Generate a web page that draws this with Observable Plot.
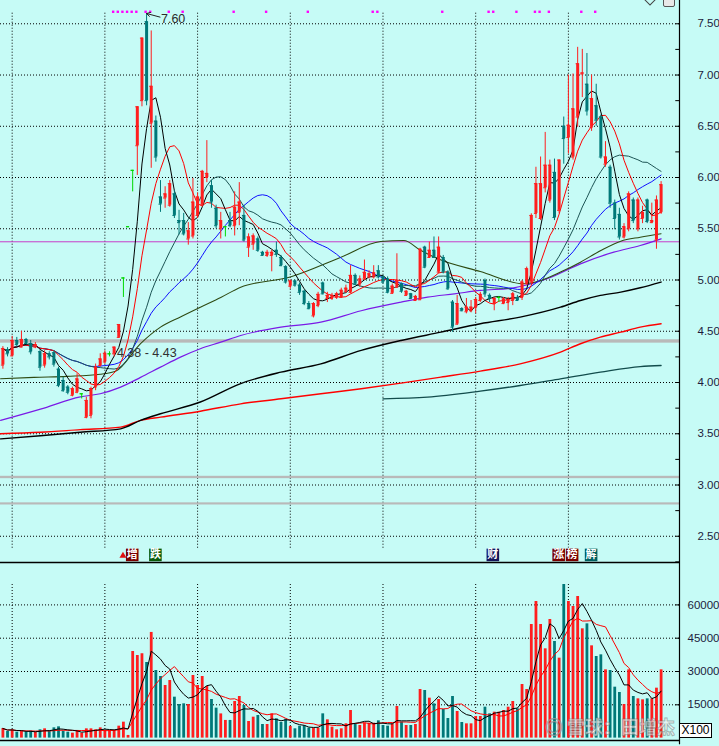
<!DOCTYPE html>
<html><head><meta charset="utf-8">
<script src="https://cdn.jsdelivr.net/npm/d3@7"></script>
<script src="https://cdn.jsdelivr.net/npm/@observablehq/plot@0.6"></script>
<style>
html,body{margin:0;padding:0;background:#c6fbf6;}
#wrap{position:relative;width:719px;height:746px;overflow:hidden;background:#c6fbf6;font-family:"Liberation Sans",Arial,sans-serif;}
#wrap svg{position:absolute;left:0;overflow:visible;}
#x100{position:absolute;left:679px;top:723px;width:31px;height:13px;border:1px solid #000;background:#fff;font:12px "Liberation Sans",Arial,sans-serif;line-height:13px;text-align:center;color:#000;}
#wm{position:absolute;left:545px;top:713px;font:bold 18px "Noto Sans CJK SC",sans-serif;color:rgba(255,255,255,0.6);-webkit-text-stroke:1px rgba(110,110,110,0.5);white-space:nowrap;}
#ic1{position:absolute;left:646px;top:-4px;width:6px;height:6px;border:1px solid #444;transform:rotate(45deg);background:transparent;}
#ic2{position:absolute;left:663px;top:-3px;width:10px;height:8px;border:1px solid #555;border-radius:2px;background:#e8e8e8;}
</style></head><body><div id="wrap"><div id="wm">◎ 雪球：田增杰</div><div id="x100">X100</div><div id="ic1"></div><div id="ic2"></div></div>
<script>
// ---- candle data (index 0..142) ----
const opens = [4.17,4.32,4.26,4.41,4.345,4.42,4.38,4.345,4.30,4.17,4.28,4.29,4.13,4.02,3.955,3.875,3.905,3.89,3.66,3.68,
3.955,4.166,4.20,4.28,4.28,4.44,5.02,5.52,6.07,6.31,6.75,7.52,6.53,6.55,5.81,5.80,5.73,5.84,5.58,5.58,
5.40,5.43,5.63,5.73,6.00,5.92,5.70,5.50,5.52,5.58,5.53,5.66,5.63,5.32,5.35,5.40,5.27,5.24,5.24,5.29,
5.22,5.13,4.94,4.99,4.95,4.89,4.77,4.65,4.75,4.97,4.82,4.82,4.83,4.83,4.89,4.88,5.045,4.96,5.01,5.03,
5.03,5.09,5.03,5.01,4.87,4.93,4.963,4.85,4.865,4.80,4.807,5.32,5.22,5.29,5.077,5.22,5.077,4.784,4.57,4.72,
4.69,4.70,4.73,4.80,4.996,4.85,4.77,4.83,4.77,4.78,4.80,4.83,4.83,4.963,4.98,5.65,5.60,5.90,5.78,6.05,
5.68,6.50,6.39,6.20,6.59,7.01,6.91,6.49,6.70,6.59,6.13,6.10,5.75,5.64,5.42,5.50,5.78,5.50,5.60,5.78,
5.56,5.39,5.66];
const highs = [4.35,4.34,4.45,4.44,4.50,4.43,4.41,4.39,4.31,4.31,4.30,4.31,4.15,4.05,3.97,3.955,4.085,3.89,3.856,3.955,
4.18,4.28,4.31,4.30,4.345,4.566,5.02,5.52,6.07,6.69,7.36,7.60,7.43,6.60,5.97,5.91,5.97,5.87,5.68,5.65,
5.56,5.99,5.85,6.07,6.36,5.97,5.73,5.66,5.52,5.66,5.86,5.95,5.73,5.45,5.45,5.42,5.28,5.29,5.29,5.37,
5.24,5.14,5.00,5.00,4.97,4.90,4.79,4.78,4.88,4.98,4.88,4.87,4.88,4.92,4.95,5.14,5.06,5.04,5.195,5.09,
5.14,5.14,5.04,5.03,4.96,5.256,4.97,4.90,4.87,4.85,5.31,5.33,5.37,5.42,5.42,5.24,5.09,4.80,4.85,4.73,
4.82,4.80,4.83,4.88,5.01,4.865,4.83,4.84,4.83,4.83,4.88,4.85,4.996,5.126,5.646,6.10,6.20,6.44,6.17,6.18,
6.17,6.59,7.00,7.01,7.27,7.25,7.21,7.00,6.91,6.61,6.35,6.12,5.78,5.70,5.55,5.86,5.80,5.80,5.72,5.79,
5.75,5.82,5.96];
const lows = [4.13,4.25,4.25,4.345,4.34,4.37,4.27,4.33,4.11,4.14,4.22,4.15,3.95,3.905,3.88,3.86,3.89,3.84,3.646,3.646,
3.92,4.15,4.18,4.25,4.25,4.43,4.83,5.52,5.86,6.02,6.69,6.70,6.09,6.15,5.66,5.70,5.71,5.60,5.44,5.43,
5.34,5.40,5.60,5.71,5.95,5.70,5.50,5.40,5.42,5.51,5.43,5.53,5.37,5.22,5.29,5.27,5.23,5.22,5.08,5.22,
5.13,4.96,4.91,4.93,4.85,4.75,4.71,4.63,4.73,4.855,4.78,4.80,4.81,4.82,4.87,4.865,4.95,4.93,4.995,5.01,
5.01,5.01,4.96,4.865,4.86,4.92,4.87,4.84,4.81,4.79,4.80,5.11,5.21,5.21,5.06,5.06,4.90,4.49,4.556,4.69,
4.67,4.68,4.67,4.78,4.83,4.78,4.70,4.78,4.76,4.70,4.75,4.79,4.80,4.95,4.963,5.60,5.58,5.85,5.75,5.58,
5.65,6.13,6.23,6.17,6.49,6.78,6.60,6.45,6.50,6.18,6.10,5.70,5.49,5.39,5.40,5.47,5.55,5.47,5.55,5.55,
5.55,5.30,5.64];
const closes = [4.33,4.28,4.41,4.37,4.42,4.38,4.30,4.37,4.15,4.28,4.25,4.18,3.97,3.92,3.905,3.94,4.035,3.89,3.825,3.94,
4.15,4.23,4.285,4.28,4.345,4.566,5.02,5.52,6.07,6.69,7.36,6.75,6.89,6.20,5.74,5.84,5.94,5.63,5.56,5.45,
5.48,5.76,5.81,6.06,6.04,5.76,5.53,5.58,5.52,5.53,5.71,5.76,5.39,5.42,5.43,5.29,5.24,5.27,5.27,5.25,
5.14,4.98,4.99,4.95,4.88,4.77,4.72,4.77,4.86,4.865,4.85,4.85,4.865,4.90,4.92,5.045,4.96,5.01,5.075,5.06,
5.07,5.03,4.98,4.88,4.94,4.995,4.89,4.89,4.82,4.84,5.30,5.125,5.29,5.22,5.32,5.077,4.914,4.54,4.77,4.70,
4.735,4.735,4.81,4.86,4.865,4.82,4.82,4.83,4.815,4.81,4.865,4.80,4.98,5.11,5.63,5.94,5.94,6.12,6.12,5.61,
6.17,6.38,6.51,6.67,7.11,7.02,6.65,6.77,6.56,6.20,6.20,5.75,5.60,5.42,5.52,5.84,5.58,5.78,5.66,5.57,
5.58,5.78,5.93];
const volumes = [4325,2970,3725,2670,3120,2670,3120,2670,3725,4175,3120,4620,5075,3120,2670,2220,3120,2220,4175,4175,
3725,4620,3425,3425,3425,5375,7180,1200,39000,37200,38000,34050,47600,30450,27750,23700,25950,18440,15140,15440,
15140,28200,23700,27750,23240,17400,13500,10900,7960,7960,16500,18740,14685,7478,9430,10180,6126,6126,10931,8679,
7027,8529,5225,4176,5375,5526,4475,4475,4475,10931,8228,4925,3724,4176,6426,12432,6426,5674,6727,6727,
6727,7778,5674,5375,6426,14234,7177,5674,5674,6126,21892,21442,17988,15436,17389,12883,8829,18739,11982,7027,
6426,6426,9730,9730,13934,10931,11682,11682,12432,13934,16487,13183,24144,21892,51171,61531,51171,40210,53423,43514,
36006,69189,61531,59279,63784,49219,51471,41562,36757,37508,30751,30450,22943,20541,15135,30751,18739,17688,17237,17688,
17688,22493,30751];

// ---- long moving averages (index, value) ----
const ma60Idx = [-0.5,6.7,13.9,21,24.3,29.7,34,38.3,42.6,47,51.3,62,72.8,81.5,86.5,90.1,94.4,103,112.4,116,120.3,124.6,129,133.3,137.5,142];
const ma60Val = [4.036,4.05,4.06,4.08,4.11,4.38,4.54,4.64,4.735,4.83,4.93,5.03,5.22,5.376,5.386,5.29,5.197,5.083,4.963,4.995,5.077,5.174,5.288,5.379,5.418,5.451];
const ma120Idx = [-0.5,8.1,16.7,21,25.4,29.7,34,38.3,42.6,47,51.3,60,68.6,77.3,85.9,91.6,97.4,103,110.2,117.4,124.6,131.8,137.5,142];
const ma120Val = [3.63,3.74,3.86,3.89,3.955,4.05,4.15,4.248,4.33,4.394,4.459,4.54,4.589,4.70,4.784,4.833,4.865,4.898,4.924,5.012,5.158,5.272,5.337,5.402];
const maLongBlackIdx = [-0.5,8.1,16.7,25.4,29.7,34,42.6,51.3,60,68.6,77.3,85.9,94.5,103,111.6,120.3,124.6,128.9,133.3,137.5,142];
const maLongBlackVal = [3.45,3.48,3.515,3.548,3.63,3.695,3.81,3.99,4.101,4.182,4.313,4.41,4.491,4.573,4.638,4.735,4.80,4.85,4.882,4.924,4.98];
const maLongRedIdx = [-0.5,8.1,16.7,25.4,29.7,34,42.6,51.3,60,68.6,77.3,85.9,94.5,103,111.6,120.3,124.6,128.9,133.3,137.5,142];
const maLongRedVal = [3.50,3.515,3.54,3.565,3.63,3.662,3.72,3.792,3.841,3.89,3.939,3.994,4.052,4.111,4.182,4.296,4.378,4.443,4.491,4.54,4.573];
const maLongTealIdx = [82,91.6,103,111.6,120.3,128.9,137.5,142];
const maLongTealVal = [3.841,3.857,3.916,3.971,4.036,4.101,4.156,4.166];

// ---- annotations / labels ----
const priceTicks = [2.5,3.0,3.5,4.0,4.5,5.0,5.5,6.0,6.5,7.0,7.5];
const priceMinor = [2.25,2.5,2.75,3.0,3.25,3.5,3.75,4.0,4.25,4.5,4.75,5.0,5.25,5.5,5.75,6.0,6.25,6.5,6.75,7.0,7.25,7.5];
const volTicks = [15000,30000,45000,60000];
const gridIdx = [2,22,42,62,82,102,122];
const bandLo = [4.384,3.062,2.805];
const bandHi = [4.417,3.085,2.826];
const pressureLine = [5.373];
const markIdx = [24,25,26,27,28,29,31,32,36,39,50,57,66,80,81,95,105,106,111,115,116,118,125,128];
const eventIdx = [27.9,32.9,105.7,119.9,122.8,126.9];
const eventText = ["增","跌","财","涨","榜","解"];
const eventColor = ["#7a0000","#0a5a0a","#14145a","#7a0000","#7a0000","#006060"];
const highLabel = "7.60";
const rangeLabel = "4.38 - 4.43";

// ---- build ----
const N = closes.length;
const rows = d3.range(N).map(i => ({i, o: opens[i], h: highs[i], l: lows[i], c: closes[i], v: volumes[i]}));
const UP = "#ff1e1e", DOWN = "#007878", DOJI = "#00d800";
const col = d => d.c > d.o ? UP : d.c < d.o ? DOWN : DOJI;
const vcol = d => d.c >= d.o ? UP : DOWN;
const pairs = (I, V) => I.map((x, k) => ({x, y: V[k]}));
const xDom = [-0.518, 145.97];
const LBL = "#1c1c3c";
const FONT = "Liberation Sans, Arial, sans-serif";
const dot = {stroke: "#000", strokeDasharray: "1,2", strokeWidth: 1};

const main = Plot.plot({
  width: 719, height: 562, marginLeft: 0, marginRight: 40, marginTop: 0, marginBottom: 0,
  style: {background: "transparent", fontFamily: FONT, fontSize: "11.5px", color: LBL},
  x: {domain: xDom, axis: null},
  y: {domain: [2.244, 7.727], axis: "right", ticks: priceTicks, tickSize: 0, tickPadding: 18, tickFormat: d3.format(".2f"), label: null},
  color: {type: "identity"},
  marks: [
    Plot.ruleY(priceTicks, dot),
    Plot.ruleX(gridIdx, {...dot, y1: 7.603, y2: 2.371}),
    Plot.rect(bandLo.map((lo, k) => ({lo, hi: bandHi[k]})), {y1: "lo", y2: "hi", fill: "#b9b9b9"}),
    Plot.ruleY(pressureLine, {stroke: "#c83cc8", strokeWidth: 1}),
    Plot.line(pairs(maLongTealIdx, maLongTealVal), {x: "x", y: "y", stroke: "#124c4c", strokeWidth: 1.3, curve: "monotone-x"}),
    Plot.line(pairs(maLongRedIdx, maLongRedVal), {x: "x", y: "y", stroke: "#ff0000", strokeWidth: 1.4, curve: "monotone-x"}),
    Plot.line(pairs(maLongBlackIdx, maLongBlackVal), {x: "x", y: "y", stroke: "#000", strokeWidth: 1.4, curve: "monotone-x"}),
    Plot.line(pairs(ma120Idx, ma120Val), {x: "x", y: "y", stroke: "#7a1ae6", strokeWidth: 1.2, curve: "monotone-x"}),
    Plot.line(pairs(ma60Idx, ma60Val), {x: "x", y: "y", stroke: "#2e4a12", strokeWidth: 1.1, curve: "monotone-x"}),
    Plot.lineY(rows, Plot.windowY({k: 30, anchor: "end", reduce: "mean"}, {x: "i", y: "c", stroke: "#1010ff", strokeWidth: 1})),
    Plot.lineY(rows, Plot.windowY({k: 20, anchor: "end", reduce: "mean"}, {x: "i", y: "c", stroke: "#1d5555", strokeWidth: 1})),
    Plot.lineY(rows, Plot.windowY({k: 10, anchor: "end", reduce: "mean"}, {x: "i", y: "c", stroke: "#ff0000", strokeWidth: 1})),
    Plot.lineY(rows, Plot.windowY({k: 5, anchor: "end", reduce: "mean"}, {x: "i", y: "c", stroke: "#000", strokeWidth: 1})),
    Plot.ruleX(rows, {x: "i", y1: "l", y2: "h", stroke: col, strokeWidth: 1}),
    Plot.ruleX(rows.filter(d => d.c !== d.o), {x: "i", y1: "o", y2: "c", stroke: col, strokeWidth: 3}),
    Plot.ruleY(rows, {y: "c", x1: d => d.i - 0.33, x2: d => d.i + 0.33, stroke: col, strokeWidth: 1}),
    Plot.ruleY(rows, {y: "o", x1: d => d.i - 0.33, x2: d => d.i + 0.33, stroke: col, strokeWidth: 1}),
    Plot.ruleY(priceMinor, {x1: xDom[1] - 0.8, x2: xDom[1], stroke: "#000"}),
    Plot.ruleX([xDom[1]], {stroke: "#000", strokeWidth: 1.2}),
    Plot.ruleY([2.244], {stroke: "#000", strokeWidth: 1.5}),
    Plot.dot(markIdx, {x: d => d, y: 7.617, symbol: "square", r: 1.35, fill: "#ff00ff", stroke: null, dx: -1}),
    Plot.arrow([{x1: 33.9, y1: 7.565, x2: 31, y2: 7.60}], {x1: "x1", y1: "y1", x2: "x2", y2: "y2", stroke: "#222", strokeWidth: 1, headLength: 6, bend: 0}),
    Plot.text([highLabel], {x: 34.1, y: 7.548, text: d => d, textAnchor: "start", fill: "#2a2a2a", fontSize: 12.5}),
    Plot.text([rangeLabel], {x: 24.6, y: 4.29, text: d => d, textAnchor: "start", fill: "#303030", fontSize: 12.5}),
    Plot.dot([25.9], {x: d => d, y: 2.31, symbol: "triangle", r: 2.6, fill: "#e01010", stroke: null}),
    Plot.dot(eventIdx.map((x, k) => ({x, t: eventText[k], c: eventColor[k]})), {x: "x", y: 2.318, symbol: "square", r: 7.1, fill: "c", stroke: null}),
    Plot.text(eventIdx.map((x, k) => ({x, t: eventText[k]})), {x: "x", y: 2.318, text: "t", fill: "white", fontSize: 11, fontFamily: "Noto Sans CJK SC", fontWeight: "bold"})
  ]
});
main.style.top = "0px";

const vol = Plot.plot({
  width: 719, height: 184, marginLeft: 0, marginRight: 40, marginTop: 0, marginBottom: 6,
  style: {background: "transparent", fontFamily: FONT, fontSize: "11.5px", color: LBL},
  x: {domain: xDom, axis: null},
  y: {domain: [-1080, 79100], axis: "right", ticks: volTicks, tickSize: 0, tickPadding: 8, tickFormat: d => String(d), label: null},
  color: {type: "identity"},
  marks: [
    Plot.ruleY(volTicks, dot),
    Plot.ruleX(gridIdx, {...dot, y1: 69190, y2: 0}),
    Plot.ruleX(rows, {x: "i", y1: 0, y2: "v", stroke: vcol, strokeWidth: 2.8}),
    Plot.lineY(rows, Plot.windowY({k: 10, anchor: "end", reduce: "mean"}, {x: "i", y: "v", stroke: "#ff0000", strokeWidth: 1})),
    Plot.lineY(rows, Plot.windowY({k: 5, anchor: "end", reduce: "mean"}, {x: "i", y: "v", stroke: "#000", strokeWidth: 1})),
    Plot.ruleY(volTicks, {x1: xDom[1] - 0.8, x2: xDom[1], stroke: "#000"}),
    Plot.ruleX([xDom[1]], {y1: -3000, y2: 79100, stroke: "#000", strokeWidth: 1.2}),
    Plot.ruleY([-1080], {stroke: "#000", strokeWidth: 1.5})
  ]
});
vol.style.top = "562px";

const wrap = document.getElementById("wrap");
wrap.insertBefore(vol, wrap.firstChild);
wrap.insertBefore(main, wrap.firstChild);
</script>
</body></html>
